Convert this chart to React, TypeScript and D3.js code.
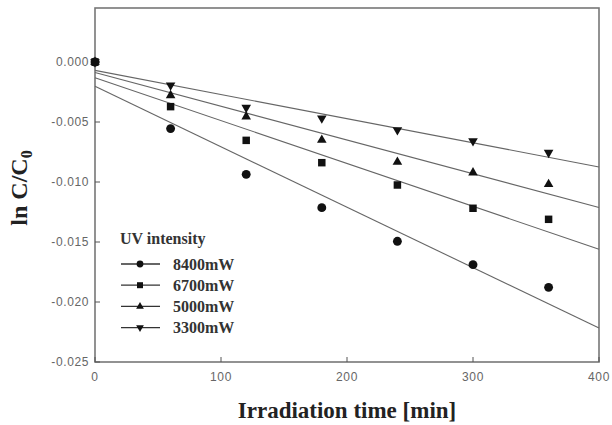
import React, { useRef, useEffect } from 'react';
import * as d3 from 'd3';

// irradiation time [min]
const times = [0, 60, 120, 180, 240, 300, 360];
const s8400 = [0, -0.00555, -0.00936, -0.01214, -0.01494, -0.01689, -0.01878];
const s6700 = [0, -0.00372, -0.00653, -0.00839, -0.01025, -0.01219, -0.01311];
const s5000 = [0, -0.00278, -0.00455, -0.0065, -0.00833, -0.00922, -0.01019];
const s3300 = [0, -0.00194, -0.0038, -0.00469, -0.00567, -0.00658, -0.00755];
const seriesNames = ['8400mW', '6700mW', '5000mW', '3300mW'];
const xTicks = [0, 100, 200, 300, 400];
const yTicks = [0, -0.005, -0.01, -0.015, -0.02, -0.025];

const fit = (xs: number[], ys: number[]) => {
  const mx = d3.mean(xs) as number;
  const my = d3.mean(ys) as number;
  let sxy = 0, sxx = 0;
  xs.forEach((x, i) => { sxy += (x - mx) * (ys[i] - my); sxx += (x - mx) * (x - mx); });
  const b = sxy / sxx;
  return { a: my - b * mx, b };
};

const serif = 'Liberation Serif, Times New Roman, serif';
const sans = 'Liberation Sans, Arial, sans-serif';

const App = () => {
  const ref = useRef<SVGSVGElement>(null);
  useEffect(() => {
    const svg = d3.select(ref.current);
    svg.selectAll('*').remove();
    const left = 95, right = 599, top = 8, bottom = 362;
    const x = d3.scaleLinear().domain([0, 400]).range([left, right]);
    const y = d3.scaleLinear().domain([-0.025, 0.0045]).range([bottom, top]);

    // frame
    svg.append('rect').attr('x', left).attr('y', top).attr('width', right - left).attr('height', bottom - top)
      .attr('fill', 'none').attr('stroke', '#777').attr('stroke-width', 1.6);

    const g = svg.append('g');
    // ticks
    yTicks.forEach(t => {
      g.append('line').attr('x1', left).attr('x2', left + 5).attr('y1', y(t)).attr('y2', y(t)).attr('stroke', '#555');
      g.append('text').attr('x', left - 6).attr('y', y(t)).attr('dy', '0.35em').attr('text-anchor', 'end')
        .attr('font-family', sans).attr('font-size', 12).attr('letter-spacing', 0.6).attr('fill', '#666')
        .text(t === 0 ? '0.000' : d3.format('.3f')(t).replace('−', '-'));
    });
    xTicks.forEach(t => {
      g.append('line').attr('x1', x(t)).attr('x2', x(t)).attr('y1', bottom).attr('y2', bottom - 5).attr('stroke', '#555');
      g.append('text').attr('x', x(t)).attr('y', bottom + 19).attr('text-anchor', 'middle')
        .attr('font-family', sans).attr('font-size', 12).attr('letter-spacing', 0.6).attr('fill', '#666')
        .text(t);
    });

    const allSeries = [s8400, s6700, s5000, s3300];
    const symbols = [d3.symbolCircle, d3.symbolSquare, d3.symbolTriangle, d3.symbolTriangle];
    const sizes = [62, 56, 40, 40];

    // regression lines
    allSeries.forEach(s => {
      const { a, b } = fit(times, s);
      g.append('path')
        .datum([0, 400])
        .attr('fill', 'none').attr('stroke', '#666').attr('stroke-width', 1.1)
        .attr('d', d3.line<number>().x(d => x(d)).y(d => y(a + b * d)));
    });

    // markers (drawn in reverse so circles sit on top)
    [3, 2, 1, 0].forEach(si => {
      const s = allSeries[si];
      const sym = d3.symbol().type(symbols[si]).size(sizes[si]);
      g.selectAll(null).data(times).enter().append('path')
        .attr('d', sym)
        .attr('transform', (d, i) => `translate(${x(d)},${y(s[i])})` + (si === 3 ? ' rotate(180)' : ''))
        .attr('fill', '#111');
    });

    // legend
    const lg = svg.append('g');
    lg.append('text').attr('x', 120).attr('y', 244).attr('font-family', serif)
      .attr('font-weight', 'bold').attr('font-size', 16).attr('fill', '#333').text('UV intensity');
    seriesNames.forEach((n, i) => {
      const yy = 264 + i * 21.2;
      lg.append('line').attr('x1', 121).attr('x2', 160).attr('y1', yy).attr('y2', yy).attr('stroke', '#333').attr('stroke-width', 1.3);
      const sym = d3.symbol().type(symbols[i]).size(i < 2 ? 36 : 26);
      lg.append('path').attr('d', sym).attr('transform', `translate(140,${yy})` + (i === 3 ? ' rotate(180)' : '')).attr('fill', '#111');
      lg.append('text').attr('x', 173).attr('y', yy).attr('dy', '0.35em').attr('font-family', serif)
        .attr('font-weight', 'bold').attr('font-size', 16).attr('fill', '#333').text(n);
    });

    // axis titles
    svg.append('text').attr('x', 347).attr('y', 418).attr('text-anchor', 'middle')
      .attr('font-family', serif).attr('font-weight', 'bold')
      .attr('font-size', 23).attr('fill', '#222').text('Irradiation time [min]');
    const yt = svg.append('text').attr('transform', 'translate(27,188) rotate(-90)').attr('text-anchor', 'middle')
      .attr('font-family', serif).attr('font-weight', 'bold')
      .attr('font-size', 24).attr('fill', '#222');
    yt.append('tspan').text('ln C/C');
    yt.append('tspan').attr('font-size', 16).attr('dy', 5).text('0');
  }, []);

  return (
    <svg ref={ref} width={612} height={425} style={{ position: 'absolute', left: 0, top: 0, background: '#fff' }}></svg>
  );
};

export default App;
